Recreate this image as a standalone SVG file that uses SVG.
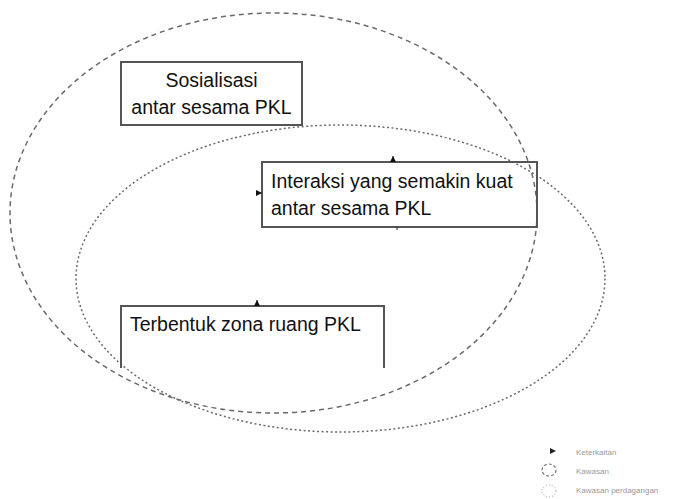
<svg xmlns="http://www.w3.org/2000/svg" width="676" height="499" viewBox="0 0 676 499">
  <defs>
    <style>
      .box { fill: none; stroke: #555; stroke-width: 2; }
      .lbl { font-family: "Liberation Sans", Arial, sans-serif; font-size: 19.5px; fill: #111; }
      .outer { fill: none; stroke: #6a6a6a; stroke-width: 1.5; stroke-dasharray: 5 4; }
      .inner { fill: none; stroke: #6a6a6a; stroke-width: 1.5; stroke-dasharray: 2 2.5; }
      .conn { fill: none; stroke: #222; stroke-width: 1; }
      .leg { font-family: "Liberation Sans", Arial, sans-serif; font-size: 8px; fill: #999; }
    </style>
    <marker id="ah" viewBox="0 0 6 6" refX="6" refY="3" markerWidth="6" markerHeight="6" markerUnits="userSpaceOnUse" orient="auto">
      <path d="M0,0 L6,3 L0,6 Z" fill="#111"/>
    </marker>
  </defs>
  <rect width="676" height="499" fill="#fff"/>

  <g id="zones">
    <ellipse id="outer-zone" class="outer" cx="273.5" cy="213" rx="263.5" ry="200"/>
    <ellipse id="inner-zone" class="inner" cx="340.5" cy="278.5" rx="264.5" ry="153.5"/>
  </g>

  <g id="node-sosialisasi">
    <rect class="box" x="121" y="62" width="181" height="63"/>
    <text class="lbl" x="211.5" y="87" text-anchor="middle">Sosialisasi</text>
    <text class="lbl" x="211.5" y="114" text-anchor="middle">antar sesama PKL</text>
  </g>

  <g id="node-interaksi">
    <rect class="box" x="262" y="162" width="275" height="65"/>
    <text class="lbl" x="271" y="188">Interaksi yang semakin kuat</text>
    <text class="lbl" x="271" y="215">antar sesama PKL</text>
  </g>

  <g id="node-zona">
    <path class="box" d="M121,368 V306 H384 V368"/>
    <text class="lbl" x="130" y="331">Terbentuk zona ruang PKL</text>
  </g>

  <g id="connectors">
    <path class="conn" d="M393,162 L393,156" marker-end="url(#ah)"/>
    <path class="conn" d="M256,193 L262,193" marker-end="url(#ah)"/>
    <path class="conn" d="M257,306 L257,300" marker-end="url(#ah)"/>
    <path class="conn" d="M397,227 L397,230"/>
  </g>

  <g id="legend">
    <path d="M550,448 L556,451 L550,454 Z" fill="#222"/>
    <text class="leg" x="576" y="455">Keterkaitan</text>
    <ellipse cx="549" cy="470" rx="7" ry="6" fill="none" stroke="#777" stroke-width="1.2" stroke-dasharray="3 2"/>
    <text class="leg" x="576" y="474">Kawasan</text>
    <ellipse cx="549" cy="491" rx="7" ry="6" fill="none" stroke="#999" stroke-width="1" stroke-dasharray="1 2"/>
    <text class="leg" x="576" y="493">Kawasan perdagangan</text>
  </g>
</svg>
